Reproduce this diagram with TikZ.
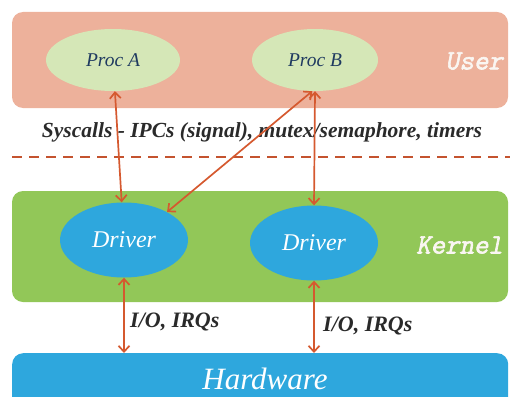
\documentclass[tikz,border=0pt]{standalone}
\usepackage{fontspec}
\newfontfamily\labelserif{Liberation Serif}
\newfontfamily\layermono[FakeBold=2.2, FakeSlant=0.2]{Latin Modern Mono}
\usetikzlibrary{arrows.meta,shapes.geometric}

\definecolor{userband}{HTML}{EDB19B}
\definecolor{procfill}{HTML}{D5E7B7}
\definecolor{kernelband}{HTML}{92C758}
\definecolor{drvblue}{HTML}{2EA7DD}
\definecolor{arrowred}{HTML}{D5592F}
\definecolor{dashred}{HTML}{C4532F}
\definecolor{navytext}{HTML}{1F3A60}
\definecolor{bodytext}{HTML}{2A2A2A}
\definecolor{layertext}{HTML}{FAF6F2}

\tikzset{
  band/.style={rounded corners=11pt, draw=none},
  proc/.style={ellipse, fill=procfill, draw=none, inner sep=0pt,
    minimum width=134pt, minimum height=62pt,
    font=\labelserif\itshape\fontsize{19.5}{22}\selectfont, text=navytext},
  drv/.style={ellipse, fill=drvblue, draw=none, inner sep=0pt,
    minimum width=128pt, minimum height=75pt,
    font=\labelserif\itshape\fontsize{24}{26}\selectfont, text=white},
  conn/.style={draw=arrowred, line width=1.7pt,
    {Straight Barb[length=6pt,width=11pt]}-{Straight Barb[length=6pt,width=11pt]}},
  layername/.style={font=\layermono\fontsize{28}{30}\selectfont, text=layertext},
  iolabel/.style={anchor=west, inner sep=0pt,
    font=\labelserif\bfseries\itshape\fontsize{22}{24}\selectfont, text=bodytext}
}

\begin{document}
\begin{tikzpicture}[x=1pt,y=-1pt]
  \useasboundingbox (0,0) rectangle (510,396);
  \clip (0,0) rectangle (510,396);

  % layer bands
  \fill[band, userband] (12,12) rectangle (508,108);
  \fill[band, kernelband] (12,191) rectangle (508,302);
  \node[band, fill=drvblue, anchor=north west, minimum width=496pt,
        minimum height=70pt, inner sep=0pt] (hw) at (12,353) {};
  \node[font=\labelserif\itshape\fontsize{31}{34}\selectfont, text=white] (hwtext) at (265,379) {Hardware};

  % layer names
  \node[layername, anchor=east, inner sep=0pt] (user) at (503,61) {User};
  \node[layername, anchor=east, inner sep=0pt] (kernel) at (503,245) {Kernel};

  % processes and drivers
  \node[proc] (pa) at (113,60) {Proc A};
  \node[proc, minimum width=126pt] (pb) at (315,60) {Proc B};
  \node[drv] (d1) at (124,240) {Driver};
  \node[drv] (d2) at (314,243) {Driver};

  % user/kernel boundary
  \node[font=\labelserif\bfseries\itshape\fontsize{21.5}{23}\selectfont, text=bodytext] (sys) at (262,132)
    {Syscalls - IPCs (signal), mutex/semaphore, timers};
  \coordinate (dl) at (12,157);
  \coordinate (dr) at (510,157);
  \draw[dashred, line width=2.2pt, dash pattern=on 10pt off 7pt] (dl) -- (dr);

  % connectors
  \draw[conn] (pa) -- (d1);
  \draw[conn] (pb.-95) -- (d1.33);
  \draw[conn] (pb.south) -- (d2.north);
  \draw[conn] (d1.south) -- (d1.south |- hw.north);
  \draw[conn] (d2.south) -- (d2.south |- hw.north);

  % bus labels
  \node[iolabel] (io1) at (130,322) {I/O, IRQs};
  \node[iolabel] (io2) at (323,326) {I/O, IRQs};
\end{tikzpicture}
\end{document}
